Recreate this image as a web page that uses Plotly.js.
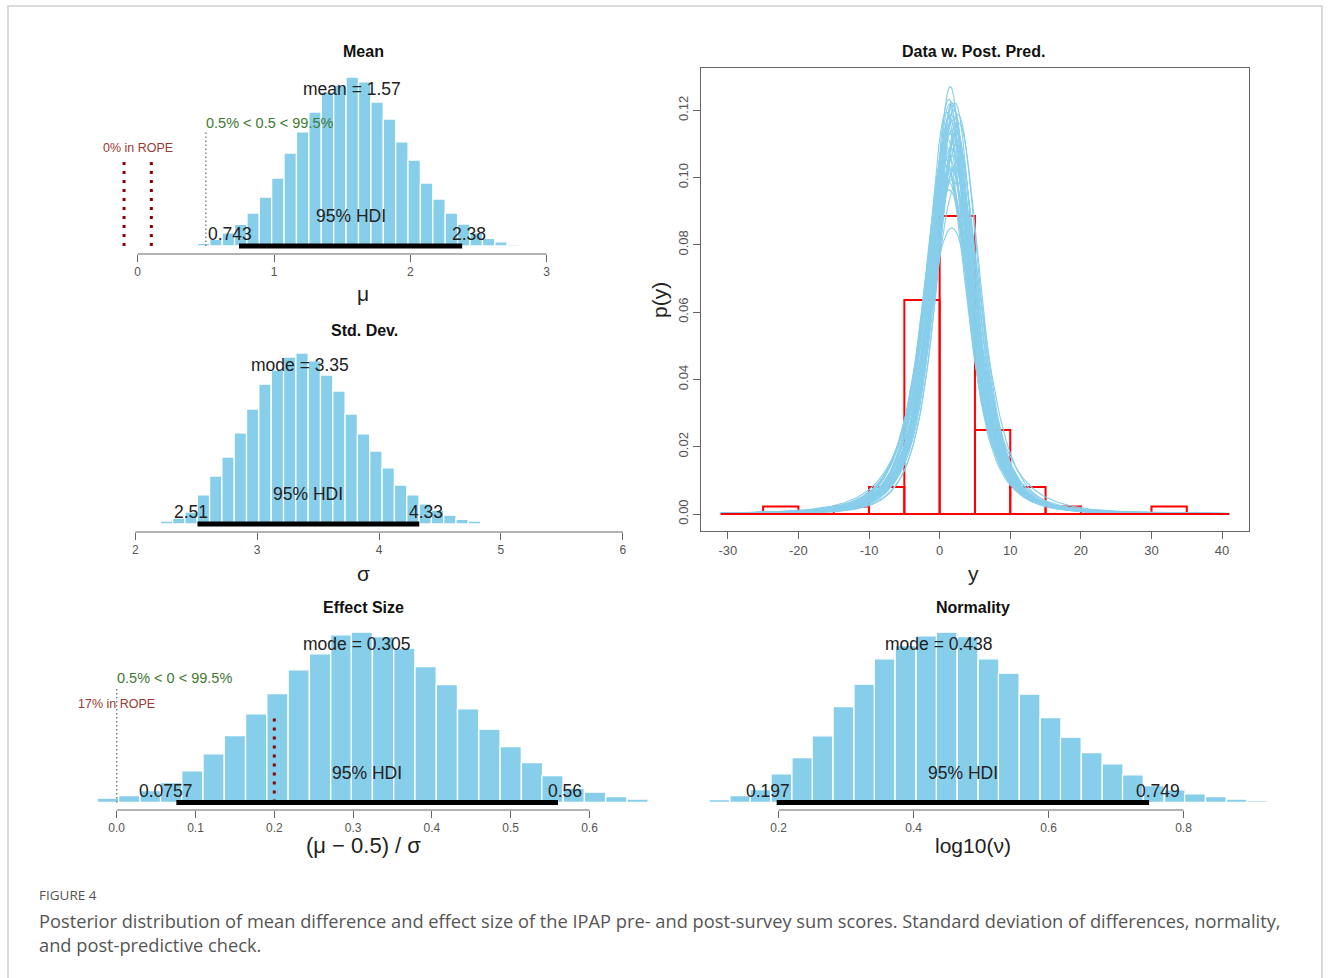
<!DOCTYPE html>
<html><head><meta charset="utf-8">
<script src="https://cdn.plot.ly/plotly-3.0.1.min.js"></script>
<style>html,body{margin:0;padding:0;background:#fff;}#chart{width:1330px;height:978px;}</style>
</head><body><div id="chart"></div>
<script>
// ================= DATA =================
// Mean (mu) posterior histogram
const meanBinCenters = [0.392,0.483,0.574,0.665,0.756,0.847,0.937,1.028,1.119,1.210,1.301,1.392,1.483,1.574,1.665,1.756,1.847,1.938,2.028,2.119,2.210,2.301,2.392,2.483,2.574,2.665,2.756];
const meanDensity = [0.006,0.015,0.038,0.074,0.123,0.187,0.278,0.386,0.528,0.648,0.761,0.875,0.914,0.960,0.932,0.818,0.721,0.591,0.488,0.358,0.267,0.187,0.125,0.074,0.044,0.024,0.010];
const meanBinWidth = 0.0909;
const meanHDI = [0.743, 2.38];
const meanCenTend = 1.57;
const meanCenLabel = "mean = 1.57";
const meanCompVal = 0.5;
const meanCompLabel = "0.5% < 0.5 < 99.5%";
const meanROPE = [-0.1, 0.1];
const meanROPELabel = "0% in ROPE";
const meanTicks = [0, 1, 2, 3];
const meanTickText = ["0", "1", "2", "3"];

// Std. Dev. (sigma) posterior histogram
const sdBinCenters = [2.155,2.256,2.357,2.458,2.559,2.660,2.761,2.862,2.963,3.064,3.166,3.267,3.368,3.469,3.570,3.671,3.772,3.873,3.974,4.075,4.177,4.278,4.379,4.480,4.581,4.682,4.783,4.884];
const sdDensity = [0.005,0.015,0.030,0.060,0.146,0.241,0.337,0.458,0.578,0.704,0.775,0.840,0.860,0.820,0.749,0.669,0.553,0.453,0.367,0.282,0.196,0.146,0.101,0.070,0.045,0.023,0.015,0.007];
const sdBinWidth = 0.1011;
const sdHDI = [2.51, 4.33];
const sdCenTend = 3.35;
const sdCenLabel = "mode = 3.35";
const sdTicks = [2, 3, 4, 5, 6];
const sdTickText = ["2", "3", "4", "5", "6"];

// Effect size posterior histogram
const effBinCenters = [-0.038,-0.011,0.016,0.043,0.069,0.096,0.123,0.150,0.177,0.204,0.231,0.258,0.285,0.311,0.338,0.365,0.392,0.419,0.446,0.473,0.500,0.527,0.553,0.580,0.607,0.634,0.661];
const effDensity = [0.019,0.082,0.133,0.228,0.380,0.602,0.925,1.273,1.685,2.071,2.521,2.825,3.186,3.236,3.154,2.932,2.584,2.242,1.780,1.393,1.064,0.760,0.513,0.272,0.196,0.114,0.063];
const effBinWidth = 0.0269;
const effHDI = [0.0757, 0.56];
const effCenTend = 0.305;
const effCenLabel = "mode = 0.305";
const effCompVal = 0;
const effCompLabel = "0.5% < 0 < 99.5%";
const effROPE = [-0.2, 0.2];
const effROPELabel = "17% in ROPE";
const effTicks = [0, 0.1, 0.2, 0.3, 0.4, 0.5, 0.6];
const effTickText = ["0.0", "0.1", "0.2", "0.3", "0.4", "0.5", "0.6"];

// Normality (log10 nu) posterior histogram
const normBinCenters = [0.081,0.112,0.143,0.173,0.204,0.235,0.265,0.296,0.327,0.357,0.388,0.419,0.449,0.480,0.511,0.541,0.572,0.603,0.633,0.664,0.695,0.725,0.756,0.787,0.817,0.848,0.879,0.909];
const normDensity = [0.012,0.050,0.116,0.216,0.476,0.747,1.107,1.594,1.964,2.385,2.606,2.767,2.827,2.756,2.385,2.146,1.798,1.411,1.084,0.830,0.642,0.460,0.282,0.211,0.144,0.100,0.055,0.033];
const normBinWidth = 0.0307;
const normHDI = [0.197, 0.749];
const normCenTend = 0.438;
const normCenLabel = "mode = 0.438";
const normTicks = [0.2, 0.4, 0.6, 0.8];
const normTickText = ["0.2", "0.4", "0.6", "0.8"];

// Data w. Post. Pred.
const dataBinMids = [-22.5,-17.5,-12.5,-7.5,-2.5,2.5,7.5,12.5,17.5,22.5,27.5,32.5];
const dataDensity = [0.0022,0,0.0022,0.0080,0.0636,0.0886,0.0250,0.0080,0.0022,0,0,0.0022];
const dataBinWidth = 5;
const predXLim = [-31, 41];
// posterior samples used for the predictive curves (mu, sigma, log10 nu)
const postMu    = [1.60,1.10,2.20,1.40,2.50,0.80,1.90,1.50,2.70,1.20,2.00,1.70,0.90,2.30,1.45,1.85,1.00,2.40,1.55,1.30,2.10,1.75,1.15,2.05,1.65,1.80,0.75,2.60,1.60,1.35,1.30,1.90,1.00,2.20,1.60,1.45,2.35,0.95,1.75,1.25];
const postSigma = [3.35,3.10,3.60,2.90,3.80,3.30,3.45,2.78,3.20,3.70,3.00,4.30,3.50,3.25,3.15,2.95,3.55,3.40,3.05,3.90,3.30,2.85,3.65,3.50,3.20,3.75,3.40,3.10,3.60,3.00,2.90,3.10,3.30,2.95,3.05,3.60,3.20,3.00,2.88,3.45];
const postLogNu = [0.44,0.35,0.52,0.30,0.60,0.40,0.48,0.30,0.55,0.45,0.38,0.45,0.42,0.50,0.33,0.36,0.47,0.58,0.41,0.62,0.46,0.25,0.53,0.39,0.43,0.57,0.37,0.49,0.51,0.32,0.35,0.42,0.50,0.38,0.33,0.55,0.44,0.36,0.29,0.47];
const ppTicksX = [-30,-20,-10,0,10,20,30,40];
const ppTickTextX = ["-30","-20","-10","0","10","20","30","40"];
const ppTicksY = [0,0.02,0.04,0.06,0.08,0.10,0.12];
const ppTickTextY = ["0.00","0.02","0.04","0.06","0.08","0.10","0.12"];

const captionHead = "FIGURE 4";
const captionLine1 = "Posterior distribution of mean difference and effect size of the IPAP pre- and post-survey sum scores. Standard deviation of differences, normality,";
const captionLine2 = "and post-predictive check.";

// ================= LAYOUT HELPERS =================
const W = 1330, H = 978;
const fx = p => p / W;
const fy = p => 1 - p / H;
function rangeFrom(pLo, pHi, pA, vA, pB, vB) {
  const s = (vB - vA) / (pB - pA);
  return [vA + (pLo - pA) * s, vA + (pHi - pA) * s];
}
const FAM = '"Liberation Sans", Arial, Helvetica, sans-serif';
const ctx = document.createElement('canvas').getContext('2d');
function textW(str, size, fam) { ctx.font = size + 'px ' + fam; return ctx.measureText(str).width; }

const SKY = '#87CEEB';
const AXC = '#666666';
const TXT = '#222222';
const GREEN = '#3f7a33';
const DRED = '#8b0000';

const data = [];
const layout = {
  width: W, height: H, margin: {l: 0, r: 0, t: 0, b: 0},
  paper_bgcolor: '#ffffff', plot_bgcolor: 'rgba(0,0,0,0)',
  showlegend: false, barmode: 'overlay',
  annotations: [], shapes: []
};

function histPanel(c) {
  const xa = 'x' + (c.n === 1 ? '' : c.n), ya = 'y' + (c.n === 1 ? '' : c.n);
  const xk = 'xaxis' + (c.n === 1 ? '' : c.n), yk = 'yaxis' + (c.n === 1 ? '' : c.n);
  const maxD = Math.max.apply(null, c.dens);
  layout[xk] = {
    domain: [fx(c.xDom[0]), fx(c.xDom[1])], anchor: ya,
    range: rangeFrom(c.xDom[0], c.xDom[1], c.xA[0], c.xA[1], c.xB[0], c.xB[1]),
    tickmode: 'array', tickvals: c.ticks, ticktext: c.tickText,
    ticks: 'outside', ticklen: 7, tickcolor: AXC, tickwidth: 1,
    showline: false, showgrid: false, zeroline: false,
    tickfont: {family: FAM, size: 12, color: '#555'}, fixedrange: true
  };
  layout[yk] = {
    domain: [fy(c.axisPx), fy(c.topPx)], anchor: xa,
    range: rangeFrom(c.axisPx, c.topPx, c.basePx, 0, c.peakPx, maxD),
    visible: false, showgrid: false, zeroline: false, fixedrange: true
  };
  layout.shapes.push({type: 'line', xref: xa, yref: 'paper', x0: c.ticks[0], x1: c.ticks[c.ticks.length - 1],
    y0: fy(c.axisPx), y1: fy(c.axisPx), line: {color: AXC, width: 1}});
  data.push({type: 'bar', x: c.centers, y: c.dens, width: c.binW, xaxis: xa, yaxis: ya,
    marker: {color: SKY, line: {color: '#ffffff', width: 1.3}}, hoverinfo: 'skip'});
  if (c.rope) {
    const ropeHt = 0.55 * maxD;
    c.rope.forEach(r => data.push({type: 'scatter', mode: 'lines', x: [r, r], y: [0, 0.96 * ropeHt], xaxis: xa, yaxis: ya,
      line: {color: DRED, width: 3, dash: '3px,6px'}, hoverinfo: 'skip'}));
    layout.annotations.push({xref: xa, yref: ya, x: (c.rope[0] + c.rope[1]) / 2, y: ropeHt, text: c.ropeLabel,
      showarrow: false, xanchor: 'center', yanchor: 'bottom', yshift: -4,
      font: {family: FAM, size: 12.5, color: '#9a3a34'}});
  }
  if (c.comp !== undefined) {
    const cvHt = 0.7 * maxD;
    data.push({type: 'scatter', mode: 'lines', x: [c.comp, c.comp], y: [0, 0.96 * cvHt], xaxis: xa, yaxis: ya,
      line: {color: '#5f7d57', width: 1.3, dash: '1.5px,2.5px'}, hoverinfo: 'skip'});
    layout.annotations.push({xref: xa, yref: ya, x: c.comp, y: cvHt, text: c.compLabel,
      showarrow: false, xanchor: 'left', yanchor: 'bottom', yshift: -5, xshift: -2,
      font: {family: FAM, size: 14.5, color: GREEN}});
  }
  data.push({type: 'scatter', mode: 'lines', x: c.hdi, y: [0, 0], xaxis: xa, yaxis: ya, cliponaxis: false,
    line: {color: '#000000', width: 5}, hoverinfo: 'skip'});
  const hs = 17.5;
  const lo = String(c.hdi[0]), hi = String(c.hdi[1]);
  layout.annotations.push({xref: xa, yref: ya, x: c.hdi[0], y: 0, text: lo, showarrow: false,
    xanchor: 'center', yanchor: 'middle', yshift: 12, xshift: -0.2 * textW(lo, hs, FAM),
    font: {family: FAM, size: hs, color: TXT}});
  layout.annotations.push({xref: xa, yref: ya, x: c.hdi[1], y: 0, text: hi, showarrow: false,
    xanchor: 'center', yanchor: 'middle', yshift: 12, xshift: 0.2 * textW(hi, hs, FAM),
    font: {family: FAM, size: hs, color: TXT}});
  layout.annotations.push({xref: xa, yref: ya, x: (c.hdi[0] + c.hdi[1]) / 2, y: 0, text: '95% HDI', showarrow: false,
    xanchor: 'center', yanchor: 'middle', yshift: 30, font: {family: FAM, size: hs, color: TXT}});
  layout.annotations.push({xref: xa, yref: ya, x: c.cen, y: 0.9 * maxD, text: c.cenLabel, showarrow: false,
    xanchor: 'center', yanchor: 'bottom', yshift: -7, font: {family: FAM, size: hs, color: TXT}});
  layout.annotations.push({xref: 'paper', yref: 'paper', x: fx(c.titleXY[0]), y: fy(c.titleXY[1]), text: '<b>' + c.title + '</b>',
    showarrow: false, xanchor: 'center', yanchor: 'middle', font: {family: FAM, size: 16, color: '#111'}});
  layout.annotations.push({xref: 'paper', yref: 'paper', x: fx(c.xTitleXY[0]), y: fy(c.xTitleXY[1]), text: c.xTitle,
    showarrow: false, xanchor: 'center', yanchor: 'middle', font: {family: FAM, size: c.xTitleSize || 21, color: TXT}});
}

histPanel({n: 1, xDom: [90, 560], xA: [137.7, 0], xB: [546.7, 3], basePx: 246, axisPx: 254, peakPx: 77, topPx: 60,
  centers: meanBinCenters, dens: meanDensity, binW: meanBinWidth, hdi: meanHDI, cen: meanCenTend, cenLabel: meanCenLabel,
  comp: meanCompVal, compLabel: meanCompLabel, rope: meanROPE, ropeLabel: meanROPELabel,
  ticks: meanTicks, tickText: meanTickText, title: 'Mean', titleXY: [363, 51], xTitle: 'μ', xTitleXY: [363, 293]});
histPanel({n: 2, xDom: [100, 640], xA: [135.3, 2], xB: [622.8, 6], basePx: 524, axisPx: 532, peakPx: 353, topPx: 340,
  centers: sdBinCenters, dens: sdDensity, binW: sdBinWidth, hdi: sdHDI, cen: sdCenTend, cenLabel: sdCenLabel,
  ticks: sdTicks, tickText: sdTickText, title: 'Std. Dev.', titleXY: [364, 330], xTitle: 'σ', xTitleXY: [363, 573]});
histPanel({n: 3, xDom: [70, 655], xA: [116.7, 0], xB: [589.5, 0.6], basePx: 802.5, axisPx: 810, peakPx: 632.2, topPx: 615,
  centers: effBinCenters, dens: effDensity, binW: effBinWidth, hdi: effHDI, cen: effCenTend, cenLabel: effCenLabel,
  comp: effCompVal, compLabel: effCompLabel, rope: effROPE, ropeLabel: effROPELabel,
  ticks: effTicks, tickText: effTickText, title: 'Effect Size', titleXY: [363, 607], xTitle: '(μ − 0.5) / σ', xTitleXY: [363, 845], xTitleSize: 22});
histPanel({n: 4, xDom: [680, 1270], xA: [778.7, 0.2], xB: [1183.5, 0.8], basePx: 802.5, axisPx: 810, peakPx: 632.2, topPx: 615,
  centers: normBinCenters, dens: normDensity, binW: normBinWidth, hdi: normHDI, cen: normCenTend, cenLabel: normCenLabel,
  ticks: normTicks, tickText: normTickText, title: 'Normality', titleXY: [973, 607], xTitle: 'log10(ν)', xTitleXY: [973, 845]});

// ================= POSTERIOR PREDICTIVE PANEL =================
function lgamma(z) {
  const g = 7, c = [0.99999999999980993, 676.5203681218851, -1259.1392167224028, 771.32342877765313,
    -176.61502916214059, 12.507343278686905, -0.13857109526572012, 9.9843695780195716e-6, 1.5056327351493116e-7];
  if (z < 0.5) return Math.log(Math.PI / Math.abs(Math.sin(Math.PI * z))) - lgamma(1 - z);
  z -= 1; let x = c[0];
  for (let i = 1; i < g + 2; i++) x += c[i] / (z + i);
  const t = z + g + 0.5;
  return 0.5 * Math.log(2 * Math.PI) + (z + 0.5) * Math.log(t) - t + Math.log(x);
}
function dtLoc(x, mu, s, nu) {
  const z = (x - mu) / s;
  return Math.exp(lgamma((nu + 1) / 2) - lgamma(nu / 2) - 0.5 * Math.log(nu * Math.PI) - Math.log(s)
    - (nu + 1) / 2 * Math.log(1 + z * z / nu));
}
const cx = [], cy = [];
const nGrid = 241;
for (let k = 0; k < postMu.length; k++) {
  const nu = Math.pow(10, postLogNu[k]);
  for (let i = 0; i < nGrid; i++) {
    const xv = predXLim[0] + (predXLim[1] - predXLim[0]) * i / (nGrid - 1);
    cx.push(xv); cy.push(dtLoc(xv, postMu[k], postSigma[k], nu));
  }
  cx.push(null); cy.push(null);
}
data.push({type: 'scatter', mode: 'lines', x: cx, y: cy, xaxis: 'x5', yaxis: 'y5', connectgaps: false,
  line: {color: SKY, width: 1.1}, hoverinfo: 'skip'});
data.push({type: 'bar', x: dataBinMids, y: dataDensity, width: dataBinWidth, xaxis: 'x5', yaxis: 'y5',
  marker: {color: 'rgba(0,0,0,0)', line: {color: '#ff0000', width: 2}}, hoverinfo: 'skip'});
data.push({type: 'scatter', mode: 'lines', x: predXLim, y: [0, 0], xaxis: 'x5', yaxis: 'y5',
  line: {color: '#ff0000', width: 2}, hoverinfo: 'skip'});

const ppBox = {l: 701, r: 1249, t: 68, b: 531};
layout.xaxis5 = {
  domain: [fx(ppBox.l), fx(ppBox.r)], anchor: 'y5',
  range: rangeFrom(ppBox.l, ppBox.r, 727.8, -30, 1222.1, 40),
  tickmode: 'array', tickvals: ppTicksX, ticktext: ppTickTextX, ticks: 'outside', ticklen: 7, tickcolor: AXC,
  showline: true, mirror: true, linecolor: AXC, linewidth: 1, showgrid: false, zeroline: false,
  tickfont: {family: FAM, size: 13, color: '#555'}, fixedrange: true
};
layout.yaxis5 = {
  domain: [fy(ppBox.b), fy(ppBox.t)], anchor: 'x5',
  range: rangeFrom(ppBox.b, ppBox.t, 514, 0, 110.3, 0.12),
  tickmode: 'array', tickvals: ppTicksY, ticktext: ppTickTextY, tickangle: -90,
  ticks: 'outside', ticklen: 7, tickcolor: AXC,
  showline: true, mirror: true, linecolor: AXC, linewidth: 1, showgrid: false, zeroline: false,
  tickfont: {family: FAM, size: 13, color: '#555'}, fixedrange: true
};
layout.annotations.push({xref: 'paper', yref: 'paper', x: fx(973), y: fy(51), text: '<b>Data w. Post. Pred.</b>',
  showarrow: false, xanchor: 'center', yanchor: 'middle', font: {family: FAM, size: 16, color: '#111'}});
layout.annotations.push({xref: 'paper', yref: 'paper', x: fx(973), y: fy(573), text: 'y',
  showarrow: false, xanchor: 'center', yanchor: 'middle', font: {family: FAM, size: 21, color: TXT}});
layout.annotations.push({xref: 'paper', yref: 'paper', x: fx(659), y: fy(300), text: 'p(y)', textangle: -90,
  showarrow: false, xanchor: 'center', yanchor: 'middle', font: {family: FAM, size: 21, color: TXT}});

// ================= CAPTION & FRAME =================
const CAPFAM = '"Open Sans", "Noto Sans", sans-serif';
const capSize = 16 * 1242 / textW(captionLine1, 16, CAPFAM);
layout.annotations.push({xref: 'paper', yref: 'paper', x: fx(37), y: fy(895), text: captionHead,
  showarrow: false, xanchor: 'left', yanchor: 'middle', font: {family: CAPFAM, size: 13.5, color: '#555'}});
layout.annotations.push({xref: 'paper', yref: 'paper', x: fx(37), y: fy(920), text: captionLine1,
  showarrow: false, xanchor: 'left', yanchor: 'middle', font: {family: CAPFAM, size: capSize, color: '#555'}});
layout.annotations.push({xref: 'paper', yref: 'paper', x: fx(37), y: fy(944), text: captionLine2,
  showarrow: false, xanchor: 'left', yanchor: 'middle', font: {family: CAPFAM, size: capSize, color: '#555'}});
layout.shapes.push({type: 'rect', xref: 'paper', yref: 'paper', x0: fx(8), x1: fx(1322), y0: fy(6), y1: fy(1000),
  line: {color: '#cfcfcf', width: 1.5}, fillcolor: 'rgba(0,0,0,0)'});

Plotly.newPlot('chart', data, layout, {staticPlot: true, displayModeBar: false});
</script>
</body></html>
